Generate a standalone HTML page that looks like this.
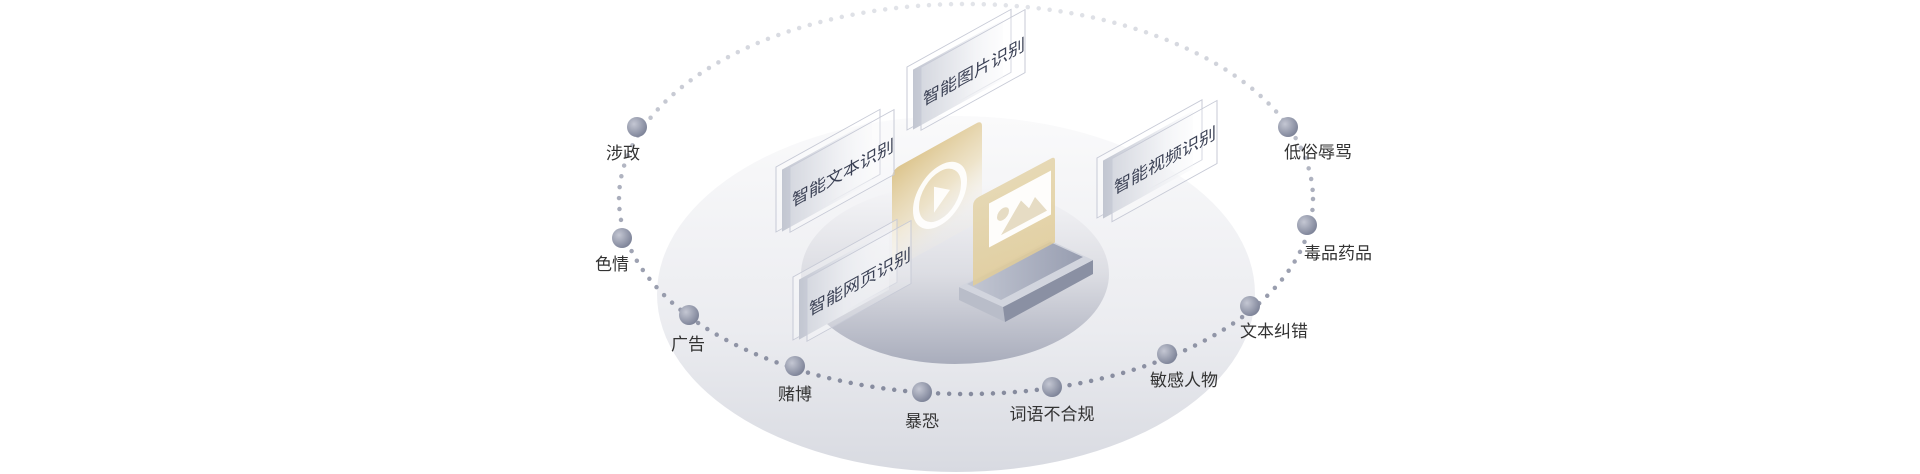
<!DOCTYPE html>
<html><head><meta charset="utf-8"><style>
html,body{margin:0;padding:0;background:#fff;}
svg{display:block;}
.lb{font-family:"Liberation Sans","Noto Sans CJK SC",sans-serif;font-size:17px;fill:#333;text-anchor:middle;}
.ct{font-family:"Liberation Sans","Noto Sans CJK SC",sans-serif;font-size:17px;fill:#3a4054;}
</style></head><body>
<svg width="1920" height="474" viewBox="0 0 1920 474" xmlns="http://www.w3.org/2000/svg">
<defs>
<linearGradient id="bigE" x1="0" y1="0" x2="0" y2="1">
<stop offset="0" stop-color="#fafafb"/><stop offset="0.6" stop-color="#ebecf0"/><stop offset="1" stop-color="#d8dae1"/></linearGradient>
<linearGradient id="inE" x1="0" y1="0" x2="0" y2="1">
<stop offset="0" stop-color="#f6f6f8"/><stop offset="0.5" stop-color="#dcdde3"/><stop offset="1" stop-color="#a9adbc"/></linearGradient>
<linearGradient id="ring" x1="0" y1="0" x2="0" y2="1">
<stop offset="0" stop-color="#e2e4e9"/><stop offset="0.5" stop-color="#a9adbb"/><stop offset="1" stop-color="#868b9e"/></linearGradient>
<radialGradient id="dot" cx="0.35" cy="0.35" r="0.7">
<stop offset="0" stop-color="#c4c7d3"/><stop offset="1" stop-color="#7c8297"/></radialGradient>
<linearGradient id="cardG" x1="0" y1="0" x2="1" y2="0">
<stop offset="0" stop-color="#c2c6d1"/><stop offset="0.5" stop-color="#e2e4ea"/><stop offset="1" stop-color="#f4f5f8" stop-opacity="0.3"/></linearGradient>
<linearGradient id="gold" x1="0" y1="0" x2="0.3" y2="1">
<stop offset="0" stop-color="#dcc48c"/><stop offset="0.6" stop-color="#ecdfbf" stop-opacity="0.8"/><stop offset="1" stop-color="#f5efe0" stop-opacity="0.2"/></linearGradient>
<linearGradient id="gold2" x1="0" y1="0" x2="0" y2="1">
<stop offset="0" stop-color="#e3d3a8"/><stop offset="1" stop-color="#e2cd98"/></linearGradient>
<linearGradient id="plate" x1="0" y1="0" x2="1" y2="0">
<stop offset="0" stop-color="#c3c7d3"/><stop offset="1" stop-color="#979db0"/></linearGradient>
</defs>
<ellipse cx="956" cy="294" rx="299" ry="178" fill="url(#bigE)"/>
<ellipse cx="955" cy="274" rx="154" ry="90" fill="url(#inE)"/>
<ellipse cx="966" cy="199" rx="347" ry="195" fill="none" stroke="url(#ring)" stroke-width="4.5" stroke-linecap="round" stroke-dasharray="0 11"/>

<!-- base slab -->
<polygon points="959,287 1003,307 1005,322 959,300" fill="#b9bdc9"/>
<polygon points="1003,307 1093,260 1093,274 1005,322" fill="#8a90a3"/>
<polygon points="959,287 1049,240 1093,260 1003,307" fill="#d2d5de"/>
<polygon points="967,284 1050,242 1083,257 1001,300" fill="url(#plate)"/>

<!-- gold video panel -->
<g transform="translate(892,170) skewY(-29)">
<path d="M0,8 Q0,0 8,0 L84,0 Q90,0 90,6 L90,100 L0,100 Z" fill="url(#gold)"/>
<ellipse cx="48" cy="52" rx="24" ry="27" fill="none" stroke="#fff" stroke-width="6" opacity="0.9"/>
<polygon points="42,40 42,66 58,52" fill="#fff" opacity="0.9"/>
</g>
<!-- image panel -->
<g transform="translate(973,200) skewY(-28)">
<path d="M0,6 Q0,0 6,0 L78,0 Q82,0 82,4 L82,86 L0,86 Z" fill="url(#gold2)" opacity="0.85"/>
<rect x="16" y="12" width="62" height="44" fill="#fff" opacity="0.95"/>
<circle cx="30" cy="30" r="6" fill="#e6dcc4"/>
<polygon points="28,50 48,26 56,38 62,30 74,50" fill="#e6dcc4"/>
</g>

<!-- cards -->
<g transform="translate(907,67) skewY(-29)">
<rect x="0" y="0" width="104" height="63" fill="#fff" fill-opacity="0.3" stroke="#c7cad6" stroke-width="1"/>
<rect x="6" y="6" width="90" height="60" fill="url(#cardG)"/>
<rect x="14" y="8" width="104" height="63" fill="#fff" fill-opacity="0.25" stroke="#c7cad6" stroke-width="1"/>
<text class="ct" x="16" y="48">智能图片识别</text>
</g>
<g transform="translate(776,167) skewY(-29)">
<rect x="0" y="0" width="104" height="65" fill="#fff" fill-opacity="0.3" stroke="#c7cad6" stroke-width="1"/>
<rect x="6" y="6" width="90" height="62" fill="url(#cardG)"/>
<rect x="14" y="8" width="104" height="65" fill="#fff" fill-opacity="0.25" stroke="#c7cad6" stroke-width="1"/>
<text class="ct" x="16" y="49">智能文本识别</text>
</g>
<g transform="translate(793,277) skewY(-29)">
<rect x="0" y="0" width="104" height="63" fill="#fff" fill-opacity="0.3" stroke="#c7cad6" stroke-width="1"/>
<rect x="6" y="6" width="90" height="60" fill="url(#cardG)"/>
<rect x="14" y="9" width="104" height="63" fill="#fff" fill-opacity="0.25" stroke="#c7cad6" stroke-width="1"/>
<text class="ct" x="16" y="48">智能网页识别</text>
</g>
<g transform="translate(1097,158) skewY(-29)">
<rect x="0" y="0" width="105" height="60" fill="#fff" fill-opacity="0.3" stroke="#c7cad6" stroke-width="1"/>
<rect x="6" y="6" width="90" height="58" fill="url(#cardG)"/>
<rect x="15" y="9" width="105" height="63" fill="#fff" fill-opacity="0.25" stroke="#c7cad6" stroke-width="1"/>
<text class="ct" x="17" y="46">智能视频识别</text>
</g>

<!-- dots -->
<g fill="url(#dot)">
<circle cx="637" cy="127" r="10"/><circle cx="622" cy="238" r="10"/><circle cx="689" cy="315" r="10"/>
<circle cx="795" cy="366" r="10"/><circle cx="922" cy="392" r="10"/><circle cx="1052" cy="387" r="10"/>
<circle cx="1167" cy="354" r="10"/><circle cx="1250" cy="306" r="10"/><circle cx="1307" cy="225" r="10"/>
<circle cx="1288" cy="127" r="10"/>
</g>
<text class="lb" x="623" y="159">涉政</text>
<text class="lb" x="612" y="270">色情</text>
<text class="lb" x="688" y="350">广告</text>
<text class="lb" x="795" y="400">赌博</text>
<text class="lb" x="922" y="427">暴恐</text>
<text class="lb" x="1052" y="420">词语不合规</text>
<text class="lb" x="1184" y="386">敏感人物</text>
<text class="lb" x="1274" y="337">文本纠错</text>
<text class="lb" x="1338" y="259">毒品药品</text>
<text class="lb" x="1318" y="158">低俗辱骂</text>
</svg>
</body></html>
